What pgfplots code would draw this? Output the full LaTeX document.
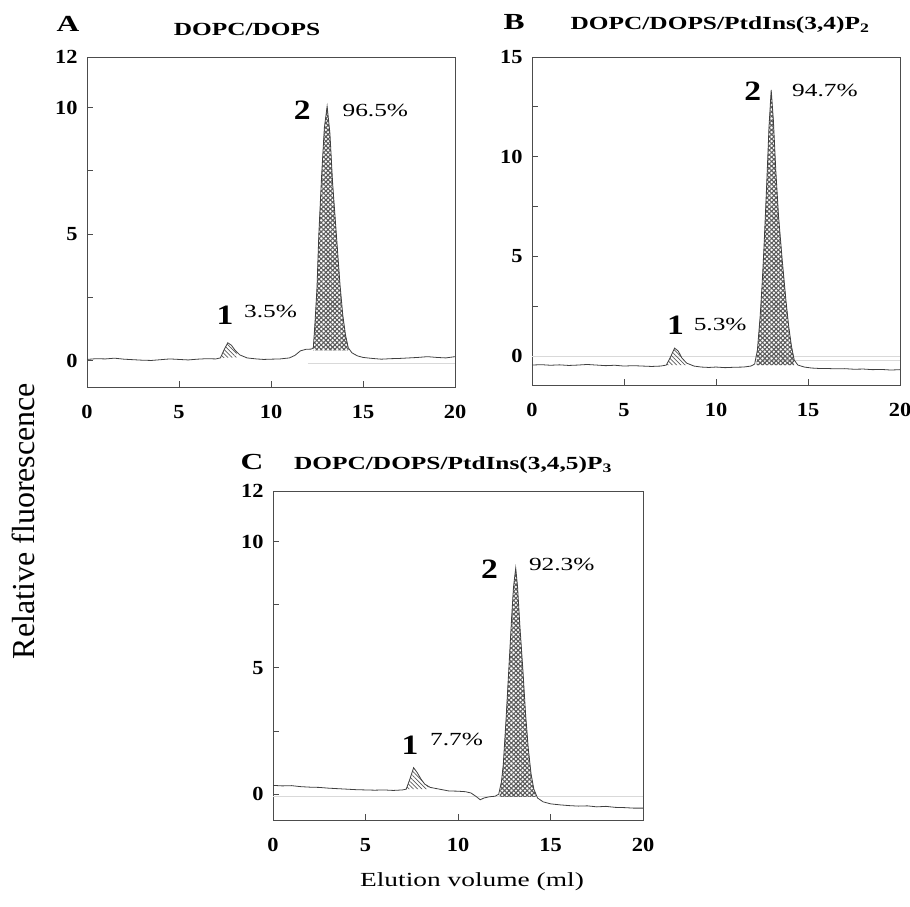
\documentclass[border=0pt]{standalone}
\usepackage{fontspec}
\setmainfont{Liberation Serif}
\newfontfamily\widefont{Liberation Serif}[FakeStretch=1.37]
\newfontfamily\numfont{Liberation Serif}[FakeStretch=1.2]
\newfontfamily\tickfont{Liberation Serif}[FakeStretch=1.12]
\usepackage{pgfplots}
\pgfplotsset{compat=1.18}
\usetikzlibrary{patterns.meta}

\pgfplotsset{
  panel/.style={
    anchor=south west, scale only axis,
    xmin=0, xmax=20, xtick={0,5,10,15,20},
    tick align=inside, xtick pos=bottom, ytick pos=left,
    major tick length=6pt,
    axis line style={black!70, line width=0.9pt},
    tick style={black!70, line width=0.8pt},
    /pgf/number format/assume math mode=true,
    ticklabel style={font=\tickfont\bfseries\fontsize{20}{20}\selectfont},
    xticklabel style={yshift=-15pt},
    yticklabel style={xshift=-6pt},
  },
  trace/.style={black!75, line width=0.8pt, no markers},
  hatch/.style={draw=none, pattern={Lines[angle=-45,distance=3pt,line width=0.7pt]}, pattern color=black!65},
  xhatch/.style={draw=none, pattern={Lines[angle=45,distance=3.2pt,line width=1.1pt]}, pattern color=black!65},
  yhatch/.style={draw=none, pattern={Lines[angle=-45,distance=3.2pt,line width=1.1pt]}, pattern color=black!65},
  faint/.style={black!15, line width=0.5pt, no markers},
}
\newcommand{\pk}[1]{{\numfont\bfseries\fontsize{28}{28}\selectfont #1}}
\newcommand{\pc}[1]{{\widefont\fontsize{18.5}{18.5}\selectfont #1}}

\begin{document}
\begin{tikzpicture}[x=1pt,y=1pt]
\useasboundingbox (0,0) rectangle (910,906);

% ---- A ----
\begin{axis}[panel, at={(87pt,519pt)}, width=368pt, height=330pt,
  ymin=-1.05, ymax=12, ytick={0,2.5,5,7.5,10,12}, yticklabels={0,,5,,10,12}]
\addplot[faint] coordinates {(12,-0.12) (20,-0.12)};
\addplot[hatch] coordinates {(7.25,0.1)(7.45,0.42)(7.65,0.7)(7.85,0.6)(8.05,0.4)(8.15,0.3)(8.15,0.12)} -- cycle;
\addplot[xhatch] coordinates {(12.3,0.4)(12.3,0.5)(12.4,1.6)(12.5,2.9)(12.6,5.0)(12.75,7.3)(12.9,9.2)(13.05,10.05)(13.2,9.0)(13.35,7.0)(13.55,5.0)(13.75,3.0)(13.9,1.8)(14.05,1.0)(14.2,0.5)(14.2,0.4)} -- cycle;
\addplot[yhatch] coordinates {(12.3,0.4)(12.3,0.5)(12.4,1.6)(12.5,2.9)(12.6,5.0)(12.75,7.3)(12.9,9.2)(13.05,10.05)(13.2,9.0)(13.35,7.0)(13.55,5.0)(13.75,3.0)(13.9,1.8)(14.05,1.0)(14.2,0.5)(14.2,0.4)} -- cycle;
\addplot[trace] coordinates {
(0,0.04)(0.5,0.07)(1,0.06)(1.5,0.09)(2,0.05)(2.5,0.03)(3,0.01)(3.5,0.0)(4,0.03)(4.5,0.06)
(5,0.04)(5.5,0.02)(6,0.05)(6.5,0.07)(7,0.06)(7.25,0.1)(7.45,0.42)(7.65,0.7)(7.85,0.6)(8.05,0.4)
(8.3,0.22)(8.7,0.1)(9.2,0.06)(9.6,0.04)(10,0.05)(10.5,0.06)(11,0.1)(11.3,0.2)(11.6,0.38)(11.9,0.44)
(12.2,0.45)(12.3,0.5)(12.4,1.6)(12.5,2.9)(12.6,5.0)(12.75,7.3)(12.9,9.2)(13.05,10.05)(13.2,9.0)(13.35,7.0)
(13.55,5.0)(13.75,3.0)(13.9,1.8)(14.05,1.0)(14.2,0.5)(14.4,0.3)(14.7,0.18)(15,0.12)(15.5,0.08)(16,0.05)
(16.5,0.07)(17,0.08)(17.5,0.1)(18,0.12)(18.5,0.15)(19,0.12)(19.5,0.1)(20,0.15)};
\node at (axis cs:7.5,1.8) {\pk{1}};
\node[anchor=west] at (axis cs:8.35,1.95) {\pc{3.5\%}};
\node at (axis cs:11.7,9.9) {\pk{2}};
\node[anchor=west] at (axis cs:13.7,9.9) {\pc{96.5\%}};
\end{axis}

% ---- B ----
\begin{axis}[panel, at={(532pt,521pt)}, width=368pt, height=328pt,
  ymin=-1.45, ymax=15, ytick={0,2.5,5,7.5,10,12.5,15}, yticklabels={0,,5,,10,,15}]
\addplot[faint] coordinates {(0,0) (20,0)};
\addplot[faint] coordinates {(12.5,-0.2) (20,-0.2)};
\addplot[hatch] coordinates {(7.3,-0.45)(7.5,-0.1)(7.75,0.4)(7.95,0.25)(8.15,-0.1)(8.4,-0.35)(8.4,-0.45)} -- cycle;
\addplot[xhatch] coordinates {(12.2,-0.45)(12.25,0.3)(12.4,2.0)(12.5,3.5)(12.6,5.3)(12.75,8.5)(12.88,11.5)(13.0,13.35)(13.12,11.8)(13.25,9.3)(13.4,7.0)(13.6,4.8)(13.8,2.8)(13.95,1.5)(14.1,0.5)(14.25,-0.2)(14.25,-0.45)} -- cycle;
\addplot[yhatch] coordinates {(12.2,-0.45)(12.25,0.3)(12.4,2.0)(12.5,3.5)(12.6,5.3)(12.75,8.5)(12.88,11.5)(13.0,13.35)(13.12,11.8)(13.25,9.3)(13.4,7.0)(13.6,4.8)(13.8,2.8)(13.95,1.5)(14.1,0.5)(14.25,-0.2)(14.25,-0.45)} -- cycle;
\addplot[trace] coordinates {
(0,-0.45)(0.5,-0.43)(1,-0.46)(1.5,-0.44)(2,-0.47)(2.5,-0.45)(3,-0.42)(3.5,-0.45)(4,-0.48)(4.5,-0.46)
(5,-0.5)(5.5,-0.48)(6,-0.5)(6.5,-0.52)(7,-0.5)(7.3,-0.45)(7.5,-0.1)(7.75,0.4)(7.95,0.25)(8.15,-0.1)
(8.4,-0.35)(8.8,-0.5)(9.2,-0.55)(9.6,-0.57)(10,-0.55)(10.5,-0.58)(11,-0.56)(11.5,-0.55)(11.9,-0.5)(12.1,-0.4)
(12.25,0.3)(12.4,2.0)(12.5,3.5)(12.6,5.3)(12.75,8.5)(12.88,11.5)(13.0,13.35)(13.12,11.8)(13.25,9.3)(13.4,7.0)
(13.6,4.8)(13.8,2.8)(13.95,1.5)(14.1,0.5)(14.25,-0.2)(14.45,-0.45)(14.8,-0.55)(15.2,-0.6)(15.6,-0.62)(16,-0.62)
(16.5,-0.64)(17,-0.63)(17.5,-0.66)(18,-0.65)(18.5,-0.68)(19,-0.67)(19.5,-0.7)(20,-0.68)};
\node at (axis cs:7.8,1.55) {\pk{1}};
\node[anchor=west] at (axis cs:8.6,1.6) {\pc{5.3\%}};
\node at (axis cs:12.0,13.3) {\pk{2}};
\node[anchor=west] at (axis cs:13.95,13.3) {\pc{94.7\%}};
\end{axis}

% ---- C ----
\begin{axis}[panel, at={(273pt,86pt)}, width=370pt, height=329pt,
  ymin=-1.02, ymax=12, ytick={0,2.5,5,7.5,10,12}, yticklabels={0,,5,,10,12}]
\addplot[faint] coordinates {(0,-0.08) (20,-0.08)};
\addplot[hatch] coordinates {(7.2,0.2)(7.4,0.6)(7.6,1.05)(7.8,0.85)(8.0,0.6)(8.2,0.4)(8.4,0.3)(8.4,0.2)} -- cycle;
\addplot[xhatch] coordinates {(12.25,-0.1)(12.35,0.5)(12.45,1.2)(12.6,3.0)(12.75,5.0)(12.9,7.0)(13.0,8.2)(13.12,8.95)(13.22,8.2)(13.35,6.6)(13.5,5.0)(13.65,3.2)(13.8,1.8)(13.95,0.8)(14.1,0.2)(14.2,-0.05)(14.2,-0.1)} -- cycle;
\addplot[yhatch] coordinates {(12.25,-0.1)(12.35,0.5)(12.45,1.2)(12.6,3.0)(12.75,5.0)(12.9,7.0)(13.0,8.2)(13.12,8.95)(13.22,8.2)(13.35,6.6)(13.5,5.0)(13.65,3.2)(13.8,1.8)(13.95,0.8)(14.1,0.2)(14.2,-0.05)(14.2,-0.1)} -- cycle;
\addplot[trace] coordinates {
(0,0.35)(0.5,0.33)(1,0.34)(1.5,0.3)(2,0.28)(2.5,0.27)(3,0.24)(3.5,0.22)(4,0.2)(4.5,0.18)
(5,0.17)(5.5,0.16)(6,0.17)(6.5,0.15)(7,0.17)(7.2,0.2)(7.4,0.6)(7.6,1.05)(7.8,0.85)(8.0,0.6)
(8.2,0.4)(8.5,0.27)(9,0.2)(9.5,0.13)(10,0.12)(10.4,0.1)(10.7,0.05)(11.0,-0.1)(11.2,-0.22)(11.4,-0.15)
(11.7,-0.1)(12.0,-0.08)(12.2,0.0)(12.35,0.5)(12.45,1.2)(12.6,3.0)(12.75,5.0)(12.9,7.0)(13.0,8.2)(13.12,8.95)
(13.22,8.2)(13.35,6.6)(13.5,5.0)(13.65,3.2)(13.8,1.8)(13.95,0.8)(14.1,0.2)(14.3,-0.15)(14.6,-0.3)(15,-0.38)
(15.5,-0.42)(16,-0.45)(16.5,-0.47)(17,-0.46)(17.5,-0.5)(18,-0.48)(18.5,-0.52)(19,-0.53)(19.5,-0.55)(20,-0.55)};
\node at (axis cs:7.4,1.95) {\pk{1}};
\node[anchor=west] at (axis cs:8.3,2.15) {\pc{7.7\%}};
\node at (axis cs:11.7,8.9) {\pk{2}};
\node[anchor=west] at (axis cs:13.65,9.1) {\pc{92.3\%}};
\end{axis}

% titles and panel letters
\node[anchor=base west] at (53,874) {\widefont\bfseries\fontsize{23}{23}\selectfont A};
\node[anchor=base] at (247,870) {\widefont\bfseries\fontsize{18.5}{18.5}\selectfont DOPC/DOPS};
\node[anchor=base west] at (500,876) {\widefont\bfseries\fontsize{23}{23}\selectfont B};
\node[anchor=base] at (720,876) {\widefont\bfseries\fontsize{18.5}{18.5}\selectfont DOPC/DOPS/PtdIns(3,4)P\textsubscript{2}};
\node[anchor=base west] at (237,436) {\widefont\bfseries\fontsize{23}{23}\selectfont C};
\node[anchor=base] at (453,436) {\widefont\bfseries\fontsize{18.5}{18.5}\selectfont DOPC/DOPS/PtdIns(3,4,5)P\textsubscript{3}};

% axis labels
\node[rotate=90, anchor=base] at (35,385) {\fontsize{32}{32}\selectfont Relative fluorescence};
\node[anchor=base] at (472,20) {\widefont\fontsize{20}{20}\selectfont Elution volume (ml)};
\end{tikzpicture}
\end{document}
